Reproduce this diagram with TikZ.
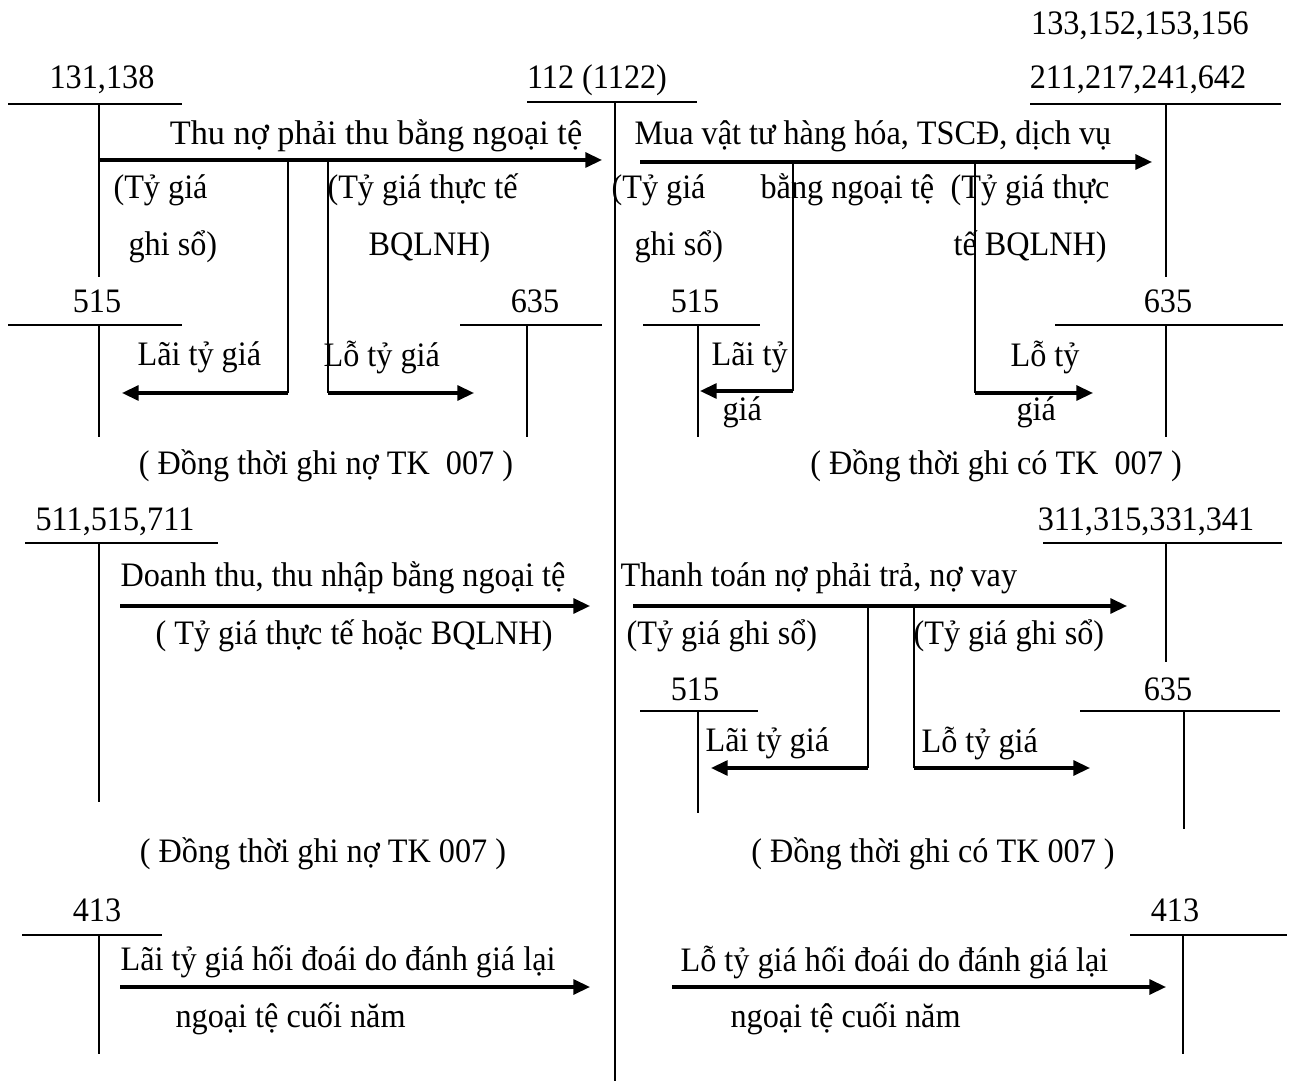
\documentclass[tikz,border=0pt]{standalone}
\usepackage{fontspec}
\setmainfont[FakeStretch=0.94]{Liberation Serif}
\newfontfamily\widefont{Liberation Serif}
\usetikzlibrary{arrows.meta}

\begin{document}
\begin{tikzpicture}[
    x=0.35pt, y=-0.35pt,
    txt/.style={inner sep=0pt, font=\fontsize{12}{14}\selectfont},
    tline/.style={line width=0.7pt},
    flow/.style={line width=1.1pt, -{Triangle[length=5.8pt,width=5.2pt]}}
]
\useasboundingbox (0,0) rectangle (1290,1081);

% tai khoan 112 (1122)
\node[txt] (tk112) at (597,80) {112 (1122)};
\draw[tline] (527,102) -- (697,102);
\draw[tline] (615,102) -- (615,1081);

% --- thu no phai thu ---
\node[txt] (tk131) at (102,80) {131,138};
\draw[tline] (8,104) -- (182,104);
\draw[tline] (99,104) -- (99,277);
\coordinate (a1s) at (99,160);
\coordinate (a1e) at (602,160);
\coordinate (a1l) at (288,160);
\coordinate (a1r) at (328,160);
\coordinate (a1lc) at (288,393);
\coordinate (a1rc) at (328,393);
\coordinate (a1le) at (122,393);
\coordinate (a1re) at (474,393);
\draw[flow] (a1s) -- (a1e);
\draw[tline] (a1l) -- (a1lc);
\draw[flow] (a1lc) -- (a1le);
\draw[tline] (a1r) -- (a1rc);
\draw[flow] (a1rc) -- (a1re);
\node[txt, font=\widefont\fontsize{12}{14}\selectfont] (thuno) at (376,136) {Thu nợ phải thu bằng ngoại tệ};
\node[txt, anchor=west] (tgl1) at (113,190) {(Tỷ giá};
\node[txt, anchor=west] (tgl2) at (128,247) {ghi sổ)};
\node[txt, anchor=west] (tgr1) at (327,190) {(Tỷ giá thực tế};
\node[txt, anchor=west] (tgr2) at (368,247) {BQLNH)};

\node[txt] (tk515a) at (97,301) {515};
\draw[tline] (8,325) -- (182,325);
\draw[tline] (99,325) -- (99,437);
\node[txt, anchor=west] (laia) at (137,357) {Lãi tỷ giá};
\node[txt, anchor=west] (loa) at (323,357) {Lỗ tỷ giá};
\node[txt] (tk635a) at (535,301) {635};
\draw[tline] (460,325) -- (602,325);
\draw[tline] (527,325) -- (527,437);
\node[txt] (ghinoa) at (326,466) {( Đồng thời ghi nợ TK~~007 )};

% --- mua vat tu ---
\node[txt] (tk133) at (1140,26) {133,152,153,156};
\node[txt] (tk211) at (1138,80) {211,217,241,642};
\draw[tline] (1030,104) -- (1281,104);
\draw[tline] (1166,104) -- (1166,277);
\coordinate (a2s) at (640,162);
\coordinate (a2e) at (1152,162);
\coordinate (a2l) at (793,162);
\coordinate (a2r) at (975,162);
\coordinate (a2lc) at (793,391);
\coordinate (a2rc) at (975,393);
\coordinate (a2le) at (700,391);
\coordinate (a2re) at (1093,393);
\draw[flow] (a2s) -- (a2e);
\draw[tline] (a2l) -- (a2lc);
\draw[flow] (a2lc) -- (a2le);
\draw[tline] (a2r) -- (a2rc);
\draw[flow] (a2rc) -- (a2re);
\node[txt, anchor=west] (muavt) at (634,136) {Mua vật tư hàng hóa, TSCĐ, dịch vụ};
\node[txt, anchor=west] (bangnt) at (760,190) {bằng ngoại tệ};
\node[txt, anchor=west] (tgl3) at (611,190) {(Tỷ giá};
\node[txt, anchor=west] (tgl4) at (634,247) {ghi sổ)};
\node[txt, anchor=west] (tgr3) at (950,190) {(Tỷ giá thực};
\node[txt, anchor=west] (tgr4) at (953,247) {tế BQLNH)};

\node[txt] (tk515b) at (695,301) {515};
\draw[tline] (643,325) -- (760,325);
\draw[tline] (698,325) -- (698,437);
\node[txt, anchor=west] (laib1) at (711,357) {Lãi tỷ};
\node[txt, anchor=west] (laib2) at (722,412) {giá};
\node[txt] (tk635b) at (1168,301) {635};
\draw[tline] (1055,325) -- (1283,325);
\draw[tline] (1166,325) -- (1166,437);
\node[txt, anchor=west] (lob1) at (1010,357) {Lỗ tỷ};
\node[txt, anchor=west] (lob2) at (1016,412) {giá};
\node[txt] (ghicob) at (996,466) {( Đồng thời ghi có TK~~007 )};

% --- doanh thu ---
\node[txt] (tk511) at (115,522) {511,515,711};
\draw[tline] (25,543) -- (218,543);
\draw[tline] (99,543) -- (99,802);
\coordinate (a3s) at (120,606);
\coordinate (a3e) at (590,606);
\draw[flow] (a3s) -- (a3e);
\node[txt, anchor=west] (doanhthu) at (120,578) {Doanh thu, thu nhập bằng ngoại tệ};
\node[txt, anchor=west] (tgtt) at (155,636) {( Tỷ giá thực tế hoặc BQLNH)};
\node[txt] (ghinoc) at (323,854) {( Đồng thời ghi nợ TK 007 )};

% --- thanh toan no ---
\node[txt] (tk311) at (1146,522) {311,315,331,341};
\draw[tline] (1043,543) -- (1282,543);
\draw[tline] (1166,543) -- (1166,662);
\coordinate (a4s) at (633,606);
\coordinate (a4e) at (1127,606);
\coordinate (a4l) at (868,606);
\coordinate (a4r) at (914,606);
\coordinate (a4lc) at (868,768);
\coordinate (a4rc) at (914,768);
\coordinate (a4le) at (711,768);
\coordinate (a4re) at (1090,768);
\draw[flow] (a4s) -- (a4e);
\draw[tline] (a4l) -- (a4lc);
\draw[flow] (a4lc) -- (a4le);
\draw[tline] (a4r) -- (a4rc);
\draw[flow] (a4rc) -- (a4re);
\node[txt, anchor=west] (thanhtoan) at (620,578) {Thanh toán nợ phải trả, nợ vay};
\node[txt, anchor=west] (tgl5) at (626,636) {(Tỷ giá ghi sổ)};
\node[txt, anchor=west] (tgr5) at (913,636) {(Tỷ giá ghi sổ)};

\node[txt] (tk515c) at (695,689) {515};
\draw[tline] (640,711) -- (758,711);
\draw[tline] (698,711) -- (698,813);
\node[txt, anchor=west] (laic) at (705,743) {Lãi tỷ giá};
\node[txt] (tk635c) at (1168,689) {635};
\draw[tline] (1080,711) -- (1280,711);
\draw[tline] (1184,711) -- (1184,829);
\node[txt, anchor=west] (loc) at (921,743) {Lỗ tỷ giá};
\node[txt] (ghicod) at (933,854) {( Đồng thời ghi có TK 007 )};

% --- danh gia lai cuoi nam ---
\node[txt] (tk413a) at (97,910) {413};
\draw[tline] (22,935) -- (162,935);
\draw[tline] (99,935) -- (99,1054);
\coordinate (a5s) at (120,987);
\coordinate (a5e) at (590,987);
\draw[flow] (a5s) -- (a5e);
\node[txt, anchor=west] (laidg) at (120,962) {Lãi tỷ giá hối đoái do đánh giá lại};
\node[txt, anchor=west] (ntcn1) at (175,1019) {ngoại tệ cuối năm};

\node[txt] (tk413b) at (1175,910) {413};
\draw[tline] (1130,935) -- (1287,935);
\draw[tline] (1183,935) -- (1183,1054);
\coordinate (a6s) at (672,987);
\coordinate (a6e) at (1166,987);
\draw[flow] (a6s) -- (a6e);
\node[txt, anchor=west] (lodg) at (680,962) {Lỗ tỷ giá hối đoái do đánh giá lại};
\node[txt, anchor=west] (ntcn2) at (730,1019) {ngoại tệ cuối năm};
\end{tikzpicture}
\end{document}
